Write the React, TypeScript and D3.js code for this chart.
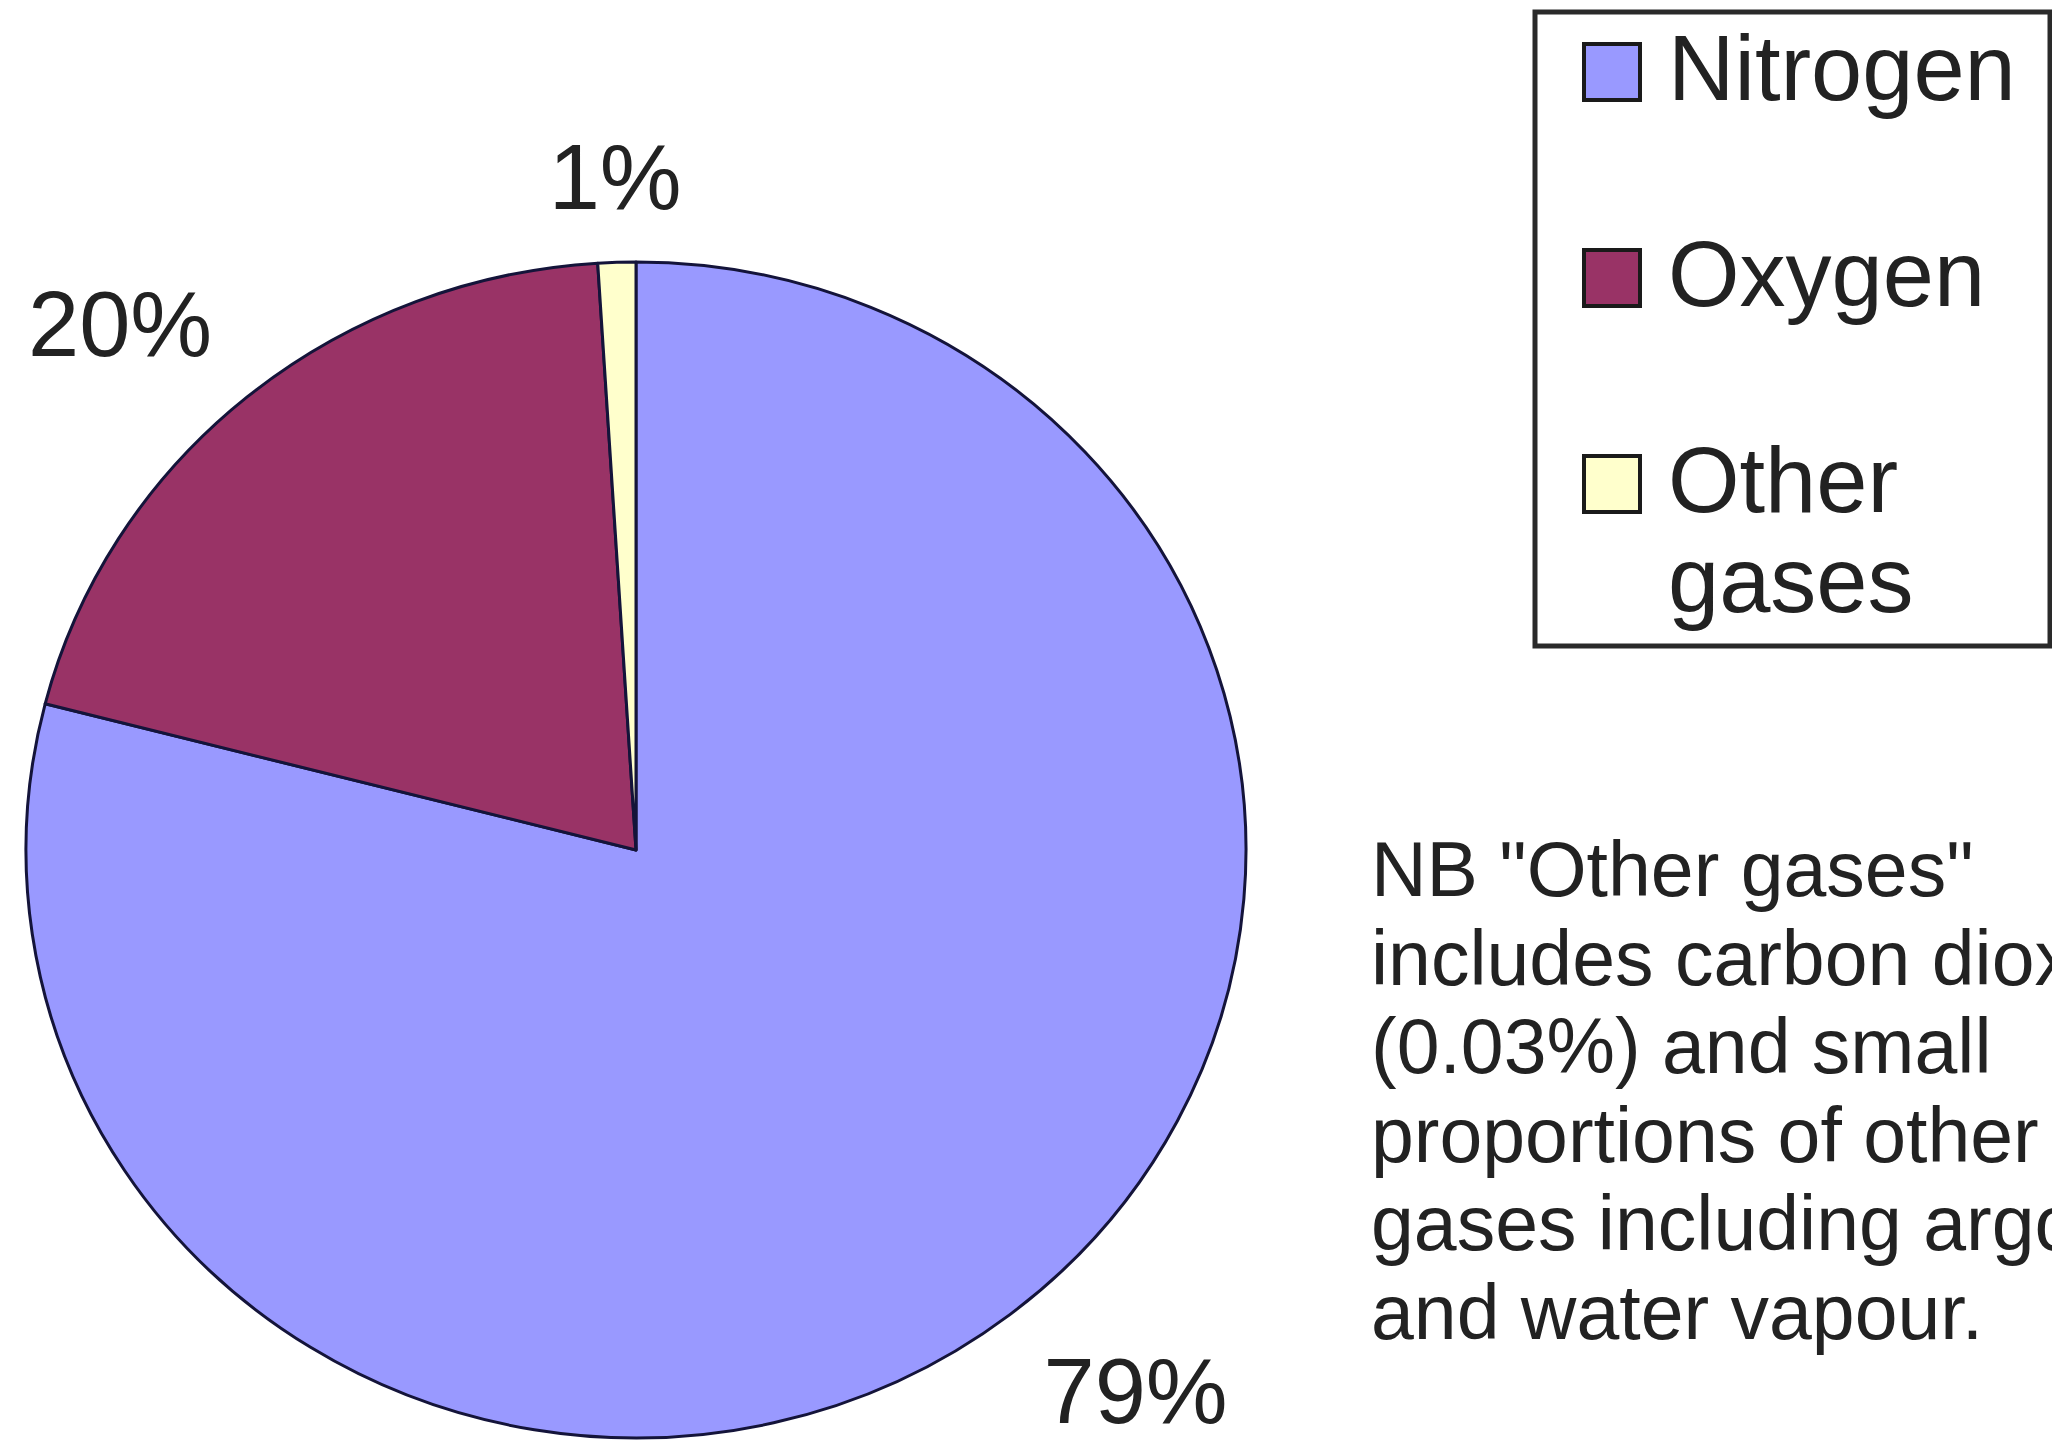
import * as d3 from 'd3'

const gases = ['Nitrogen', 'Oxygen', 'Other gases']
const shares = [79, 20, 1]
const fills = ['#9999ff', '#993366', '#ffffcc']
const legendLines = [['Nitrogen'], ['Oxygen'], ['Other', 'gases']]
const noteLines = [
  'NB "Other gases"',
  'includes carbon dioxide',
  '(0.03%) and small',
  'proportions of other',
  'gases including argon',
  'and water vapour.',
]

interface Slice {
  name: string
  value: number
  fill: string
}

const W = 2052
const H = 1445
const cx = 636
const cy = 850
const rx = 610
const ry = 588
const font = '"Liberation Sans", Arial, sans-serif'

const slices: Slice[] = gases.map((g, i) => ({ name: g, value: shares[i], fill: fills[i] }))

const pieGen = d3
  .pie<Slice>()
  .value((d) => d.value)
  .sort(null)

const arcGen = d3.arc<d3.PieArcDatum<Slice>>().innerRadius(0).outerRadius(rx)

// legend rows, baseline of the first line of each entry
const legendY = d3.scaleLinear().domain([0, 2]).range([100, 512])
const noteY = d3.scaleLinear().domain([0, 5]).range([896, 1339])

const App = () => {
  const arcs = pieGen(slices)
  const k = ry / rx
  return (
    <div style={{ position: 'absolute', left: 0, top: 0 }}>
      <svg width={W} height={H} viewBox={`0 0 ${W} ${H}`} style={{ display: 'block', background: '#fff' }}>
        <g transform={`translate(${cx},${cy}) scale(1,${k})`}>
          {arcs.map((a) => (
            <path
              key={a.data.name}
              d={arcGen(a) ?? undefined}
              fill={a.data.fill}
              stroke="#14143a"
              strokeWidth={3}
              strokeLinejoin="round"
              vectorEffect="non-scaling-stroke"
            />
          ))}
        </g>
        {arcs.map((a) => {
          const mid = (a.startAngle + a.endAngle) / 2
          const s = Math.sin(mid)
          const c = Math.cos(mid)
          const r = rx * 1.09
          const x = cx + s * r
          const y = cy - c * r * k
          const anchor = Math.abs(s) < 0.2 ? 'middle' : s > 0 ? 'start' : 'end'
          return (
            <text
              key={a.data.name}
              x={x}
              y={y}
              dy={c < 0 ? '0.72em' : 0}
              textAnchor={anchor}
              fontFamily={font}
              fontSize={92}
              fill="#222"
            >
              {`${a.data.value}%`}
            </text>
          )
        })}
        <rect x={1535} y={12} width={515} height={634} fill="#fff" stroke="#2a2a2a" strokeWidth={5} />
        {legendLines.map((lines, i) => (
          <g key={gases[i]}>
            <rect
              x={1584}
              y={legendY(i) - 56}
              width={56}
              height={56}
              fill={fills[i]}
              stroke="#1a1a1a"
              strokeWidth={4}
            />
            {lines.map((t, j) => (
              <text key={t} x={1668} y={legendY(i) + j * 100} fontFamily={font} fontSize={92} fill="#222">
                {t}
              </text>
            ))}
          </g>
        ))}
        {noteLines.map((t, i) => (
          <text key={i} x={1371} y={noteY(i)} fontFamily={font} fontSize={77} fill="#222">
            {t}
          </text>
        ))}
      </svg>
    </div>
  )
}

export default App
